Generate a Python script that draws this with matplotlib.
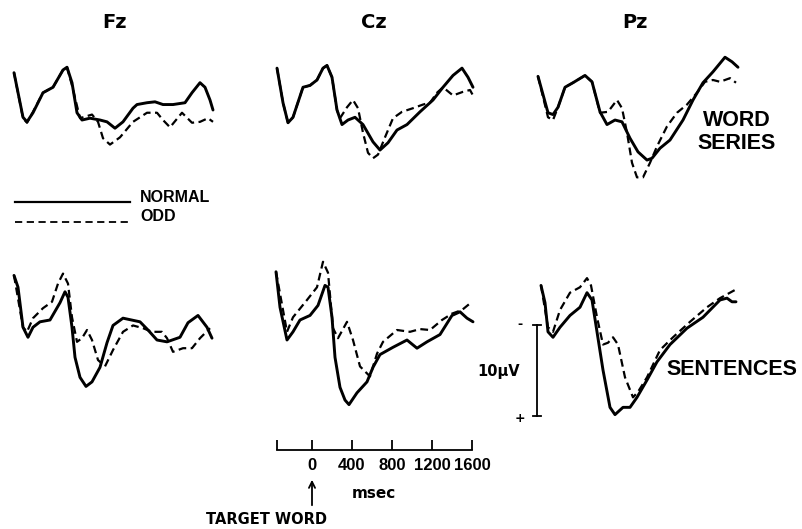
import matplotlib
matplotlib.use("Agg")
import matplotlib.pyplot as plt
import matplotlib.transforms as mtransforms
from matplotlib.lines import Line2D

plt.rcParams['font.family'] = ['DejaVu Sans']

# ---------------- data (ms, microvolts; positive = down) ----------------
FZ_WORD_NORMAL_T = [-350,-260,-220,-160,-60,40,140,180,230,280,330,410,510,580,660,740,840,880,980,1060,1140,1240,1360,1430,1510,1560,1610,1640]
FZ_WORD_NORMAL_UV = [-3.0,1.9,2.4,1.4,-0.8,-1.4,-3.3,-3.6,-1.9,1.4,2.2,2.0,2.2,2.4,3.1,2.4,0.9,0.5,0.3,0.2,0.5,0.5,0.3,-0.8,-1.9,-1.4,0.0,1.1]
FZ_WORD_ODD_T = [-350,-260,-220,-160,-60,40,140,180,230,310,430,490,540,610,710,840,980,1080,1140,1210,1330,1430,1510,1590,1640]
FZ_WORD_ODD_UV = [-3.0,2.0,2.5,1.3,-0.8,-1.4,-3.3,-3.6,-1.6,2.0,1.6,2.4,4.2,4.9,4.1,2.4,1.4,1.4,2.2,3.0,1.4,2.5,2.4,2.0,2.4]

CZ_WORD_NORMAL_T = [-350,-290,-240,-190,-90,-20,50,110,150,200,250,300,360,430,510,610,680,760,850,950,1080,1210,1310,1410,1500,1560,1610]
CZ_WORD_NORMAL_UV = [-3.5,0.3,2.5,1.9,-1.4,-1.6,-2.2,-3.5,-3.8,-2.5,1.1,2.7,2.2,1.9,2.7,4.6,5.5,4.7,3.3,2.7,1.3,0.0,-1.4,-2.7,-3.5,-2.5,-1.4]
CZ_WORD_ODD_T = [-350,-290,-240,-190,-90,-20,50,110,150,200,250,280,350,410,460,510,560,610,660,730,810,900,1010,1110,1180,1250,1310,1410,1510,1580,1610]
CZ_WORD_ODD_UV = [-3.5,0.3,2.5,1.9,-1.4,-1.6,-2.2,-3.5,-3.8,-2.5,1.1,2.0,0.8,0.0,0.9,3.6,5.8,6.4,6.0,4.1,2.0,1.3,0.9,0.5,0.3,-0.8,-1.4,-0.5,-0.9,-1.1,-0.5]

PZ_WORD_NORMAL_T = [-350,-250,-200,-150,-80,0,120,190,270,340,420,490,570,650,740,790,870,970,1100,1200,1300,1400,1520,1590,1650]
PZ_WORD_NORMAL_UV = [-2.6,1.4,1.6,0.8,-1.4,-1.9,-2.7,-2.0,1.3,2.7,2.2,2.4,4.2,5.7,6.6,6.4,5.3,4.4,2.2,0.0,-1.9,-3.1,-4.7,-4.2,-3.6]
PZ_WORD_ODD_T = [-350,-250,-200,-150,-80,0,120,190,270,350,440,490,540,590,640,700,770,840,940,1040,1140,1240,1320,1400,1470,1570,1630]
PZ_WORD_ODD_UV = [-2.6,1.9,2.2,0.8,-1.4,-1.9,-2.7,-2.0,1.4,1.3,0.0,0.9,3.6,6.9,8.5,8.5,6.9,5.1,2.9,1.4,0.5,-0.8,-2.0,-2.2,-2.0,-2.4,-1.9]

FZ_SENT_NORMAL_T = [-350,-310,-260,-210,-160,-90,10,110,160,190,230,260,310,370,430,510,580,640,740,910,990,1080,1180,1310,1390,1490,1580,1630]
FZ_SENT_NORMAL_UV = [-6.0,-4.7,-0.3,0.8,-0.3,-0.9,-1.1,-3.0,-4.2,-3.6,-0.3,3.0,5.2,6.2,5.7,4.1,1.4,-0.5,-1.3,-0.9,0.0,1.1,1.3,0.8,-0.8,-1.6,-0.3,0.9]
FZ_SENT_ODD_T = [-350,-260,-220,-160,-60,30,90,140,190,230,280,330,380,430,490,560,640,740,840,940,1030,1130,1180,1240,1340,1430,1510,1610]
FZ_SENT_ODD_UV = [-6.0,-0.3,0.2,-1.3,-2.4,-3.1,-5.1,-6.2,-5.1,-1.4,1.3,0.9,0.0,1.1,3.3,4.0,2.2,0.2,-0.5,-0.2,0.2,0.2,0.9,2.4,2.0,2.0,0.9,-0.2]

CZ_SENT_NORMAL_T = [-360,-320,-250,-190,-120,-20,60,130,160,200,230,280,330,370,450,550,610,680,810,950,1050,1150,1280,1400,1480,1550,1610]
CZ_SENT_NORMAL_UV = [-6.4,-2.5,1.1,0.2,-1.1,-1.6,-2.7,-4.9,-4.7,-1.4,3.0,6.3,7.7,8.2,6.9,5.7,4.1,2.7,1.9,1.1,2.0,1.3,0.5,-1.6,-2.0,-1.3,-0.9]
CZ_SENT_ODD_T = [-360,-250,-190,-50,50,110,160,210,260,350,410,480,580,650,710,850,980,1080,1180,1300,1400,1500,1600]
CZ_SENT_ODD_UV = [-6.4,0.2,-1.4,-3.3,-4.7,-7.5,-6.3,-0.2,0.9,-0.9,1.1,4.0,5.1,2.6,1.3,0.0,0.2,-0.1,0.0,-1.1,-1.8,-2.2,-3.1]

PZ_SENT_NORMAL_T = [-320,-280,-250,-200,-130,-30,70,140,190,240,300,370,420,500,570,640,740,840,970,1140,1300,1470,1540,1590,1630]
PZ_SENT_NORMAL_UV = [-4.9,-3.0,0.2,0.8,-0.3,-1.6,-2.5,-4.1,-3.3,0.2,4.4,8.5,9.3,8.5,8.5,7.4,5.5,3.5,1.6,-0.2,-1.4,-3.3,-3.5,-3.1,-3.1]
PZ_SENT_ODD_T = [-320,-250,-200,-130,-30,70,140,180,240,300,350,400,450,520,600,650,740,870,1000,1170,1340,1470,1620]
PZ_SENT_ODD_UV = [-4.9,-0.3,0.2,-2.2,-4.1,-4.7,-5.7,-4.9,-1.4,1.6,1.4,0.8,1.6,5.2,7.4,6.8,5.2,2.2,0.8,-0.9,-2.5,-3.5,-4.4]

ELECTRODES = ["Fz", "Cz", "Pz"]
TIME_TICKS = [0, 400, 800, 1200, 1600]
TIME_TICK_LABELS = ["0", "400", "800", "1200", "1600"]
SCALE_UV = 10

PANELS = [
    [(FZ_WORD_NORMAL_T, FZ_WORD_NORMAL_UV, FZ_WORD_ODD_T, FZ_WORD_ODD_UV),
     (CZ_WORD_NORMAL_T, CZ_WORD_NORMAL_UV, CZ_WORD_ODD_T, CZ_WORD_ODD_UV),
     (PZ_WORD_NORMAL_T, PZ_WORD_NORMAL_UV, PZ_WORD_ODD_T, PZ_WORD_ODD_UV)],
    [(FZ_SENT_NORMAL_T, FZ_SENT_NORMAL_UV, FZ_SENT_ODD_T, FZ_SENT_ODD_UV),
     (CZ_SENT_NORMAL_T, CZ_SENT_NORMAL_UV, CZ_SENT_ODD_T, CZ_SENT_ODD_UV),
     (PZ_SENT_NORMAL_T, PZ_SENT_NORMAL_UV, PZ_SENT_ODD_T, PZ_SENT_ODD_UV)],
]

# ---------------- layout ----------------
W, H = 802, 529
fig = plt.figure(figsize=(W / 100, H / 100), dpi=100)
fig.patch.set_facecolor("white")

def px_axes(left, top, width, height):
    return fig.add_axes([left / W, 1 - (top + height) / H, width / W, height / H])

PX_PER_UV = 9.1
XLIM = (-400, 1700)
YTOP, YBOT = -9, 11
COL_LEFT = [9, 272, 533]
ROW_BASE = [100, 330]
BIG = dict(family="Liberation Sans", fontweight="bold", fontsize=15.5)
SMALL = dict(family="DejaVu Sans", fontweight="bold")

axes = [[None] * 3 for _ in range(2)]
for r in range(2):
    for c in range(3):
        top = ROW_BASE[r] + YTOP * PX_PER_UV
        ax = px_axes(COL_LEFT[c], top, 210, (YBOT - YTOP) * PX_PER_UV)
        ax.set_xlim(*XLIM)
        ax.set_ylim(YBOT, YTOP)
        ax.axis("off")
        tn, vn, to, vo = PANELS[r][c]
        ax.plot(to, vo, color="black", lw=1.6, ls=(0, (3.5, 2.0)), clip_on=False,
                dash_joinstyle="round", dash_capstyle="butt")
        ax.plot(tn, vn, color="black", lw=2.1, clip_on=False,
                solid_joinstyle="round", solid_capstyle="round")
        axes[r][c] = ax

# headers
for c, name in enumerate(ELECTRODES):
    fig.text([114, 374, 635][c] / W, 1 - 22 / H, name, ha="center", va="center",
             fontsize=14, **SMALL)

# condition labels
axw = axes[0][2]
axw.text(1640, 2.3, "WORD", ha="center", va="center", clip_on=False, **BIG)
axw.text(1640, 4.75, "SERIES", ha="center", va="center", clip_on=False, **BIG)
axs = axes[1][2]
axs.text(1590, 4.3, "SENTENCES", ha="center", va="center", clip_on=False, **BIG)

# amplitude scale bar
axs.plot([-360, -360], [-0.5, -0.5 + SCALE_UV], color="black", lw=1.3, clip_on=False)
axs.plot([-400, -320], [-0.5, -0.5], color="black", lw=1.3, clip_on=False)
axs.plot([-400, -320], [-0.5 + SCALE_UV, -0.5 + SCALE_UV], color="black", lw=1.3, clip_on=False)
axs.text(-530, -0.6, "-", ha="center", va="center", fontsize=9, clip_on=False, **SMALL)
axs.text(-530, -0.5 + SCALE_UV + 0.2, "+", ha="center", va="center", fontsize=9,
         clip_on=False, **SMALL)
axs.text(-740, 4.6, "10\u03bcV", ha="center", va="center", fontsize=10.5, clip_on=False, **SMALL)

# legend
fig.add_artist(Line2D([15 / W, 130 / W], [1 - 202 / H, 1 - 202 / H], color="black", lw=1.6))
fig.add_artist(Line2D([15 / W, 128 / W], [1 - 222 / H, 1 - 222 / H], color="black", lw=1.3,
                      ls=(0, (4, 2.5))))
fig.text(140 / W, 1 - 197 / H, "NORMAL", ha="left", va="center", family="Liberation Sans",
         fontweight="bold", fontsize=11.5)
fig.text(140 / W, 1 - 217 / H, "ODD", ha="left", va="center", family="Liberation Sans",
         fontweight="bold", fontsize=11.5)

# time axis
axt = px_axes(COL_LEFT[1], 430, 210, 20)
axt.set_xlim(*XLIM)
axt.set_ylim(0, 1)
axt.patch.set_visible(False)
for s in ["left", "right", "top"]:
    axt.spines[s].set_visible(False)
axt.spines["bottom"].set_bounds(-350, 1600)
axt.spines["bottom"].set_linewidth(1.3)
axt.set_yticks([])
axt.set_xticks([-350] + TIME_TICKS)
axt.set_xticklabels([""] + TIME_TICK_LABELS, family="Liberation Sans", fontsize=12,
                    fontweight="bold")
axt.tick_params(axis="x", direction="in", length=7, width=1.3, pad=6)

blend = mtransforms.blended_transform_factory(axt.transData, fig.transFigure)
axt.text(620, 1 - 493 / H, "msec", transform=blend, ha="center", va="center",
         fontsize=11, **SMALL)
axt.annotate("", xy=(0, 1 - 477 / H), xytext=(0, 1 - 508 / H),
             xycoords=("data", "figure fraction"), textcoords=("data", "figure fraction"),
             arrowprops=dict(arrowstyle="->", color="black", lw=1.3, mutation_scale=11),
             annotation_clip=False)
fig.text(266 / W, 1 - 519 / H, "TARGET WORD", ha="center", va="center", fontsize=10.5, **SMALL)

fig.savefig("out.png", dpi=100, facecolor="white")
